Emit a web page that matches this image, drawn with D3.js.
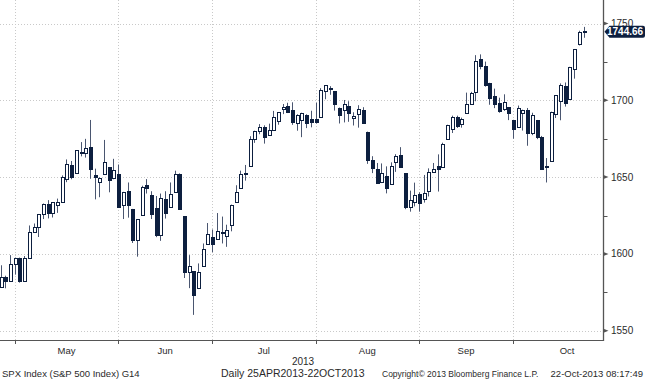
<!DOCTYPE html>
<html><head><meta charset="utf-8">
<script src="https://cdn.jsdelivr.net/npm/d3@7/dist/d3.min.js"></script>
<style>
html,body{margin:0;padding:0;background:#fff;}
svg{display:block;font-family:"Liberation Sans",Arial,sans-serif;}
</style></head>
<body><svg id="c" width="645" height="380"></svg>
<script>
const dates = ["2013-04-25","2013-04-26","2013-04-29","2013-04-30",
"2013-05-01","2013-05-02","2013-05-03","2013-05-06","2013-05-07","2013-05-08","2013-05-09","2013-05-10","2013-05-13","2013-05-14","2013-05-15","2013-05-16","2013-05-17","2013-05-20","2013-05-21","2013-05-22","2013-05-23","2013-05-24","2013-05-28","2013-05-29","2013-05-30","2013-05-31",
"2013-06-03","2013-06-04","2013-06-05","2013-06-06","2013-06-07","2013-06-10","2013-06-11","2013-06-12","2013-06-13","2013-06-14","2013-06-17","2013-06-18","2013-06-19","2013-06-20","2013-06-21","2013-06-24","2013-06-25","2013-06-26","2013-06-27","2013-06-28",
"2013-07-01","2013-07-02","2013-07-03","2013-07-05","2013-07-08","2013-07-09","2013-07-10","2013-07-11","2013-07-12","2013-07-15","2013-07-16","2013-07-17","2013-07-18","2013-07-19","2013-07-22","2013-07-23","2013-07-24","2013-07-25","2013-07-26","2013-07-29","2013-07-30","2013-07-31",
"2013-08-01","2013-08-02","2013-08-05","2013-08-06","2013-08-07","2013-08-08","2013-08-09","2013-08-12","2013-08-13","2013-08-14","2013-08-15","2013-08-16","2013-08-19","2013-08-20","2013-08-21","2013-08-22","2013-08-23","2013-08-26","2013-08-27","2013-08-28","2013-08-29","2013-08-30",
"2013-09-03","2013-09-04","2013-09-05","2013-09-06","2013-09-09","2013-09-10","2013-09-11","2013-09-12","2013-09-13","2013-09-16","2013-09-17","2013-09-18","2013-09-19","2013-09-20","2013-09-23","2013-09-24","2013-09-25","2013-09-26","2013-09-27","2013-09-30",
"2013-10-01","2013-10-02","2013-10-03","2013-10-04","2013-10-07","2013-10-08","2013-10-09","2013-10-10","2013-10-11","2013-10-14","2013-10-15","2013-10-16","2013-10-17","2013-10-18","2013-10-21"];

const open = [1578.8,1585.0,1582.3,1593.6,
1597.6,1582.8,1597.6,1614.4,1617.6,1625.9,1632.7,1626.7,1632.1,1633.8,1649.1,1658.1,1652.5,1665.7,1666.2,1669.4,1651.6,1646.7,1652.6,1656.6,1649.1,1652.1,
1631.7,1640.7,1629.0,1609.0,1625.3,1644.7,1638.6,1629.9,1612.2,1635.5,1630.6,1639.8,1651.8,1624.6,1588.6,1588.8,1577.5,1592.3,1606.4,1611.1,
1609.8,1614.3,1611.5,1618.7,1634.2,1642.9,1652.5,1657.4,1675.3,1679.6,1682.7,1677.9,1680.9,1686.2,1694.4,1696.1,1694.0,1685.2,1687.3,1690.3,1687.9,1687.8,
1689.4,1706.1,1708.0,1705.8,1695.3,1693.4,1696.1,1688.4,1690.7,1693.9,1679.6,1661.2,1655.3,1646.8,1650.7,1645.0,1659.9,1664.3,1652.5,1630.3,1633.5,1638.9,
1636.0,1640.7,1653.3,1657.4,1656.9,1675.1,1681.0,1689.2,1685.0,1691.7,1697.7,1705.0,1727.0,1722.4,1711.4,1702.6,1698.0,1694.1,1695.5,1687.3,
1682.4,1691.9,1693.6,1678.8,1687.2,1676.2,1657.0,1660.9,1691.1,1699.9,1709.2,1700.5,1720.2,1736.7,1745.2];

const high = [1592.6,1585.8,1599.2,1597.6,
1597.6,1598.6,1618.5,1619.8,1626.0,1632.8,1635.0,1633.7,1636.0,1651.1,1661.5,1660.5,1667.5,1672.8,1674.9,1687.2,1655.5,1649.8,1674.2,1656.6,1661.9,1658.2,
1640.4,1646.5,1629.3,1622.7,1644.4,1648.7,1640.8,1637.7,1639.3,1640.8,1646.5,1654.2,1652.4,1624.6,1599.2,1588.8,1593.8,1606.8,1620.1,1615.9,
1626.6,1624.3,1619.0,1632.1,1644.7,1654.2,1657.9,1676.6,1680.2,1684.5,1683.7,1684.8,1693.1,1692.1,1697.6,1698.4,1698.7,1690.9,1691.9,1690.9,1693.2,1698.4,
1707.9,1709.7,1709.2,1705.8,1695.3,1700.2,1699.4,1692.2,1696.8,1695.5,1679.6,1663.6,1659.2,1658.9,1657.0,1659.6,1664.9,1669.5,1652.5,1641.2,1646.4,1640.1,
1651.4,1655.7,1659.2,1664.8,1672.4,1684.1,1690.0,1690.0,1688.7,1705.0,1705.5,1729.4,1729.9,1725.2,1711.4,1707.6,1701.7,1703.9,1695.5,1687.3,
1696.6,1693.9,1695.0,1691.9,1687.2,1676.8,1662.4,1692.6,1703.4,1711.0,1711.6,1721.8,1733.4,1745.3,1747.8];

const low = [1578.8,1577.6,1582.3,1586.5,
1581.3,1582.8,1597.6,1614.2,1611.0,1622.7,1623.1,1623.7,1626.7,1633.8,1646.7,1648.6,1652.5,1663.5,1662.7,1648.9,1635.5,1636.9,1652.6,1640.1,1648.6,1630.7,
1622.7,1623.6,1607.1,1598.2,1625.3,1639.3,1622.7,1610.9,1608.5,1623.0,1630.3,1639.8,1628.9,1584.3,1577.7,1560.3,1577.1,1592.3,1606.4,1601.1,
1609.8,1606.8,1604.6,1614.7,1634.2,1642.9,1647.7,1657.4,1672.3,1677.9,1671.8,1677.9,1680.2,1684.1,1691.0,1691.7,1684.0,1680.2,1676.0,1681.9,1682.4,1684.9,
1689.4,1700.7,1703.6,1693.3,1684.9,1685.6,1686.0,1683.6,1682.2,1684.8,1658.6,1652.6,1646.1,1646.1,1639.4,1645.0,1653.4,1656.6,1629.1,1627.5,1630.9,1627.5,
1633.4,1637.4,1653.1,1640.6,1656.9,1675.1,1678.7,1682.0,1682.2,1691.7,1697.7,1699.4,1720.2,1708.9,1697.1,1694.9,1691.9,1693.1,1687.1,1675.0,
1682.1,1680.3,1670.4,1677.3,1674.7,1655.0,1646.5,1660.9,1688.5,1687.0,1695.9,1700.5,1714.1,1735.7,1740.7];

const close = [1585.2,1582.2,1593.6,1597.6,
1582.7,1597.6,1614.4,1617.5,1626.0,1632.7,1626.7,1633.7,1633.8,1650.3,1658.8,1650.5,1667.5,1666.3,1669.2,1655.4,1650.5,1649.6,1660.1,1648.4,1654.4,1630.7,
1640.4,1631.4,1608.9,1622.6,1643.4,1642.8,1626.1,1612.5,1636.4,1626.7,1639.0,1651.8,1628.9,1588.2,1592.4,1573.1,1588.0,1603.3,1613.2,1606.3,
1615.0,1614.1,1615.4,1631.9,1640.5,1652.3,1652.6,1675.0,1680.2,1682.5,1676.3,1680.9,1689.4,1692.1,1695.5,1692.4,1685.9,1690.3,1691.7,1685.3,1686.0,1685.7,
1706.9,1709.7,1707.1,1697.4,1690.9,1697.5,1691.4,1689.5,1694.2,1685.4,1661.3,1655.8,1646.1,1652.4,1642.8,1657.0,1663.5,1656.8,1630.5,1635.0,1638.2,1633.0,
1639.8,1653.1,1655.1,1655.2,1671.7,1684.0,1689.1,1683.4,1688.0,1697.6,1704.8,1725.5,1722.3,1709.9,1701.8,1697.4,1692.8,1698.7,1691.8,1681.6,
1695.0,1693.9,1678.7,1690.5,1676.1,1655.5,1656.4,1692.6,1703.2,1710.1,1698.1,1721.5,1733.2,1744.5,1744.66];

const yTicks = [1550,1600,1650,1700,1750];
const yMinorTicks = [1575,1625,1675,1725];
const monthLabels = ["May","Jun","Jul","Aug","Sep","Oct"];
const monthEnds = ["2013-04-30","2013-05-31","2013-06-28","2013-07-31","2013-08-30","2013-09-30"];
const octTradingDays = 23;
const yearLabel = "2013";
const lastPrice = 1744.66;
const footer = ["SPX Index (S&P 500 Index) G14","Daily 25APR2013-22OCT2013","Copyright\u00A9 2013 Bloomberg Finance L.P.","22-Oct-2013 08:17:49"];

const svg = d3.select("#c");
const axisX = 603.5, axisY = 340.5;
const x = d3.scalePoint().domain(dates).range([0.7, 583.5]);
const step = x.step();
const y = d3.scaleLinear().domain([1550,1750]).range([330.7, 23.5]);
const grid = "#c9c9c9", axisCol = "#555", navy = "#0d1f3f", txt = "#2a2a2a";

const data = dates.map((d,i)=>({d, o:open[i], h:high[i], l:low[i], c:close[i]}));

svg.append("defs").append("clipPath").attr("id","plot")
  .append("rect").attr("x",0).attr("y",0).attr("width",axisX).attr("height",axisY);

// gridlines
const g = svg.append("g");
g.selectAll("line.hg").data(yTicks).join("line")
  .attr("x1",0).attr("x2",axisX)
  .attr("y1",d=>Math.round(y(d))+0.5).attr("y2",d=>Math.round(y(d))+0.5)
  .attr("stroke",grid).attr("stroke-dasharray","1,2");
g.selectAll("line.vg").data(monthEnds).join("line")
  .attr("x1",d=>Math.round(x(d))+0.5).attr("x2",d=>Math.round(x(d))+0.5)
  .attr("y1",0).attr("y2",axisY)
  .attr("stroke",grid).attr("stroke-dasharray","1,2");

// candles
const cg = svg.append("g").attr("clip-path","url(#plot)");
const cx = d=>Math.round(x(d.d));
cg.selectAll("line.w").data(data).join("line")
  .attr("x1",d=>cx(d)+0.5).attr("x2",d=>cx(d)+0.5)
  .attr("y1",d=>y(d.h)).attr("y2",d=>y(d.l))
  .attr("stroke","#4a5670").attr("stroke-width",1);
cg.selectAll("rect.b").data(data).join("rect")
  .attr("x",d=>cx(d)-1)
  .attr("width",3)
  .attr("y",d=>Math.round(y(Math.max(d.o,d.c)))+0.5)
  .attr("height",d=>Math.max(1,Math.round(Math.abs(y(d.o)-y(d.c)))))
  .attr("fill",d=>d.c>=d.o?"#fff":navy)
  .attr("stroke",navy).attr("stroke-width",1)
  .attr("shape-rendering","crispEdges");

// axes lines
svg.append("line").attr("x1",0).attr("x2",axisX).attr("y1",axisY).attr("y2",axisY)
  .attr("stroke",axisCol).attr("stroke-width",1);
svg.append("line").attr("x1",axisX).attr("x2",axisX).attr("y1",0).attr("y2",axisY+0.5)
  .attr("stroke",axisCol).attr("stroke-width",1.3);

// y ticks
svg.selectAll("path.yt").data(yTicks).join("path")
  .attr("d",d=>{const yy=y(d);return `M${axisX},${yy-2}L${axisX+5},${yy}L${axisX},${yy+2}Z`;})
  .attr("fill",axisCol);
svg.selectAll("line.ym").data(yMinorTicks).join("line")
  .attr("x1",axisX).attr("x2",axisX+4)
  .attr("y1",d=>Math.round(y(d))+0.5).attr("y2",d=>Math.round(y(d))+0.5)
  .attr("stroke",axisCol);
svg.selectAll("text.yl").data(yTicks).join("text")
  .attr("x",611).attr("y",d=>y(d)+3.5)
  .attr("font-size",10).attr("fill",txt).text(d=>d);

// x ticks
svg.selectAll("line.xt").data(monthEnds).join("line")
  .attr("x1",d=>Math.round(x(d))+0.5).attr("x2",d=>Math.round(x(d))+0.5)
  .attr("y1",axisY).attr("y2",axisY+3.5)
  .attr("stroke",axisCol);
const bounds = monthEnds.map(d=>x(d));
bounds.push(x(monthEnds[5]) + octTradingDays*step);
svg.selectAll("text.xl").data(monthLabels).join("text")
  .attr("x",(d,i)=>(bounds[i]+bounds[i+1])/2).attr("y",353.5)
  .attr("text-anchor","middle").attr("font-size",9.5).attr("fill",txt).text(d=>d);
svg.append("text").attr("x",303).attr("y",364.5).attr("text-anchor","middle")
  .attr("font-size",10).attr("fill",txt).text(yearLabel);

// footer
const fx = [2,221,382,643];
const fs = [9.5,10.5,8.5,9.5];
svg.selectAll("text.ft").data(footer).join("text")
  .attr("x",(d,i)=>fx[i]).attr("y",377)
  .attr("text-anchor",(d,i)=>i===3?"end":"start")
  .attr("font-size",(d,i)=>fs[i]).attr("fill",txt).text(d=>d);

// last price tag
const ly = y(lastPrice);
svg.append("path")
  .attr("d",`M${axisX+1},${ly}L${axisX+6},${ly-6}L643,${ly-6}Q645,${ly-6} 645,${ly-4}L645,${ly+4}Q645,${ly+6} 643,${ly+6}L${axisX+6},${ly+6}Z`)
  .attr("fill",navy);
svg.append("text").attr("x",607).attr("y",ly+3.6)
  .attr("font-size",10).attr("font-weight","bold").attr("fill","#fff").text(d3.format(".2f")(lastPrice));
</script></body></html>
